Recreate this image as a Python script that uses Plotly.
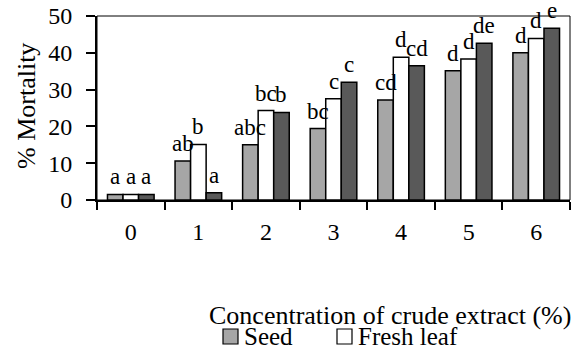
import plotly.graph_objects as go

categories = ["0", "1", "2", "3", "4", "5", "6"]
seed = [1.5, 10.6, 15.0, 19.4, 27.2, 35.1, 40.0]
fresh_leaf = [1.5, 15.1, 24.3, 27.5, 38.8, 38.3, 43.9]
dried_leaf = [1.5, 2.0, 23.8, 32.0, 36.5, 42.6, 46.7]
seed_letters = ["a", "ab", "abc", "bc", "cd", "d", "d"]
fresh_letters = ["a", "b", "bc", "c", "d", "d", "d"]
dried_letters = ["a", "a", "b", "c", "cd", "de", "e"]
y_ticks = [0, 10, 20, 30, 40, 50]
legend_names = ["Seed", "Fresh leaf"]
colors = ["#a6a6a6", "#ffffff", "#595959"]

FONT = "Liberation Serif, Times New Roman, serif"
W, H = 574, 349
L, R, T, B = 97, 4, 16, 149
PW, PH = W - L - R, H - T - B
BARGAP = 0.31
BAR_PX = PW / len(categories) * (1 - BARGAP) / 3

def px_x(p):
    return (p - L) / PW

def px_y(p):
    return (H - B - p) / PH

fig = go.Figure()
annotations = []
series = [
    ("Seed", seed, seed_letters, colors[0]),
    ("Fresh leaf", fresh_leaf, fresh_letters, colors[1]),
    ("Dried leaf", dried_leaf, dried_letters, colors[2]),
]
for k, (name, vals, txt, col) in enumerate(series):
    fig.add_trace(go.Bar(
        x=categories, y=vals, name=name,
        marker=dict(color=col, line=dict(color="black", width=1.5)),
        showlegend=False,
    ))
    for c, v, t in zip(categories, vals, txt):
        annotations.append(dict(
            x=c, y=v, text=t, xref="x", yref="y", showarrow=False,
            xanchor="center", yanchor="bottom", xshift=(k - 1) * BAR_PX,
            yshift=3, font=dict(family=FONT, size=23, color="black"),
        ))

shapes = [dict(type="rect", xref="paper", yref="paper", x0=0, x1=1,
               y0=0, y1=1, line=dict(color="black", width=1), layer="below")]
annotations += [
    dict(text="Concentration of crude extract (%)", xref="paper",
         yref="paper", x=px_x(573), y=px_y(315), xanchor="right",
         yanchor="middle", showarrow=False,
         font=dict(family=FONT, size=26)),
    dict(text="% Mortality", xref="paper", yref="paper", x=px_x(27),
         y=px_y(106), xanchor="center", yanchor="middle", textangle=-90,
         showarrow=False, font=dict(family=FONT, size=26)),
]
for i, (nm, sx, tx) in enumerate(zip(legend_names, [223, 337], [242, 356])):
    shapes.append(dict(type="rect", xref="paper", yref="paper",
                       x0=px_x(sx), x1=px_x(sx + 15), y0=px_y(344), y1=px_y(329),
                       fillcolor=colors[i], line=dict(color="black", width=1.2)))
    annotations.append(dict(text=nm, xref="paper", yref="paper", x=px_x(tx),
                            y=px_y(336), xanchor="left", yanchor="middle",
                            showarrow=False, font=dict(family=FONT, size=25)))

fig.update_layout(
    width=W, height=H,
    margin=dict(l=L, r=R, t=T, b=B, autoexpand=False),
    paper_bgcolor="white", plot_bgcolor="white",
    barmode="group", bargap=BARGAP, bargroupgap=0,
    font=dict(family=FONT, size=24, color="black"),
    showlegend=False,
    xaxis=dict(
        type="category", range=[-0.5, 6.5], tickson="boundaries",
        ticks="outside", ticklen=8, tickwidth=2, tickcolor="black",
        showline=True, linecolor="black", linewidth=2, showgrid=False,
        tickfont=dict(family=FONT, size=24, color="black"),
        ticklabelstandoff=9,
    ),
    xaxis2=dict(
        overlaying="x", anchor="y", side="bottom", type="linear",
        range=[-0.5, 6.5], tickvals=[-0.5, 0.5, 1.5, 2.5, 3.5, 4.5, 5.5, 6.5],
        ticks="inside", ticklen=7, tickwidth=2, tickcolor="black",
        showticklabels=False, showline=False, showgrid=False, zeroline=False,
    ),
    yaxis=dict(
        range=[0, 50], tickvals=y_ticks, ticks="outside", ticklen=9,
        tickwidth=2, tickcolor="black", showline=True, linecolor="black",
        linewidth=2, showgrid=False, zeroline=False,
        tickfont=dict(family=FONT, size=24, color="black"),
        ticklabelstandoff=9,
    ),
    yaxis2=dict(
        overlaying="y", anchor="x", side="left", range=[0, 50],
        tickvals=y_ticks, ticks="inside", ticklen=7, tickwidth=2,
        tickcolor="black", showticklabels=False, showline=False,
        showgrid=False, zeroline=False,
    ),
    shapes=shapes,
    annotations=annotations,
)

fig.write_html("out.html")
